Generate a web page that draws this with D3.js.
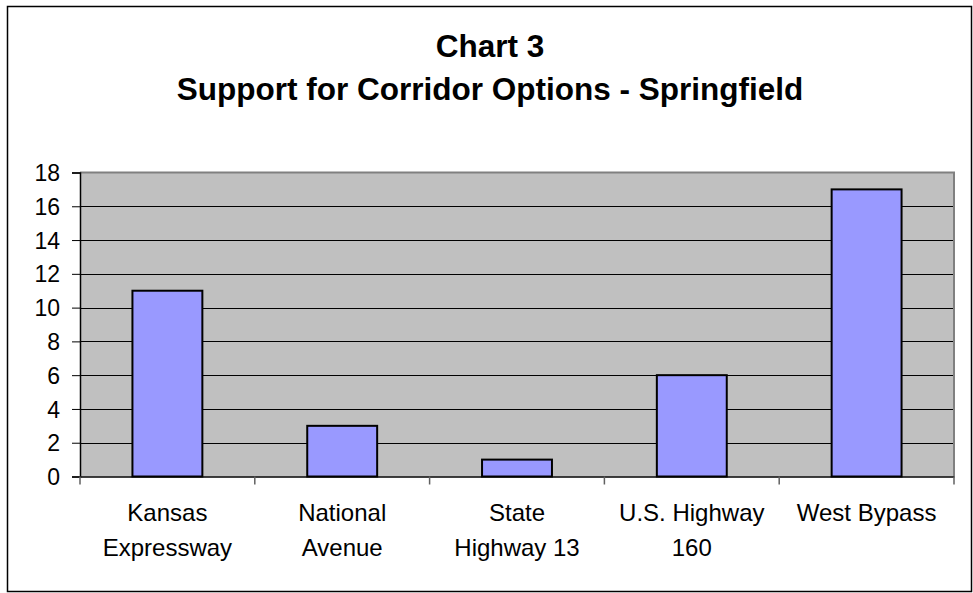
<!DOCTYPE html>
<html>
<head>
<meta charset="utf-8">
<script src="https://cdn.jsdelivr.net/npm/d3@7"></script>
<style>
  html, body { margin: 0; padding: 0; background: #fff; }
  svg { display: block; font-family: Arial, "Liberation Sans", sans-serif; }
</style>
</head>
<body>
<svg id="chart" width="973" height="593"></svg>
<script>
const titleLines = ["Chart 3", "Support for Corridor Options - Springfield"];
const categories = ["Kansas Expressway", "National Avenue", "State Highway 13", "U.S. Highway 160", "West Bypass"];
const categoryLabelLines = [["Kansas", "Expressway"], ["National", "Avenue"], ["State", "Highway 13"], ["U.S. Highway", "160"], ["West Bypass"]];
const values = [11, 3, 1, 6, 17];
const yTicks = [0, 2, 4, 6, 8, 10, 12, 14, 16, 18];

const svg = d3.select("#chart");
const plot = { left: 80, right: 954, top: 172.5, bottom: 476.5 };

// outer border
svg.append("rect")
  .attr("x", 7.5).attr("y", 6.5)
  .attr("width", 964).attr("height", 585)
  .attr("fill", "#fff").attr("stroke", "#000").attr("stroke-width", 1.5);

// title
const title = svg.append("text")
  .attr("text-anchor", "middle")
  .attr("font-weight", "bold")
  .attr("font-size", 31.5)
  .attr("fill", "#000");
titleLines.forEach((t, i) => {
  title.append("tspan").attr("x", 490).attr("y", 57 + i * 43).text(t);
});

const x = d3.scaleBand().domain(categories).range([plot.left, plot.right]).paddingInner(0).paddingOuter(0);
const y = d3.scaleLinear().domain([0, 18]).range([plot.bottom, plot.top]);

// plot background
svg.append("rect")
  .attr("x", plot.left).attr("y", plot.top)
  .attr("width", plot.right - plot.left).attr("height", plot.bottom - plot.top)
  .attr("fill", "#C0C0C0");

// gridlines
svg.append("g")
  .selectAll("line")
  .data(yTicks.filter(d => d > 0 && d < 18))
  .join("line")
  .attr("x1", plot.left).attr("x2", plot.right)
  .attr("y1", d => Math.round(y(d)) + 0.5).attr("y2", d => Math.round(y(d)) + 0.5)
  .attr("stroke", "#000").attr("stroke-width", 1);

// plot border (top/right gray)
svg.append("path")
  .attr("d", `M${plot.left},${plot.top}H${plot.right}V${plot.bottom}`)
  .attr("fill", "none").attr("stroke", "#808080").attr("stroke-width", 2);

// bars
const barW = x.bandwidth() / 2.5;
svg.append("g")
  .selectAll("rect")
  .data(values)
  .join("rect")
  .attr("x", (d, i) => x(categories[i]) + (x.bandwidth() - barW) / 2)
  .attr("y", d => y(d))
  .attr("width", barW)
  .attr("height", d => y(0) - y(d))
  .attr("fill", "#9999FF")
  .attr("stroke", "#000")
  .attr("stroke-width", 2);

// y axis
const yAxis = svg.append("g")
  .attr("transform", `translate(${plot.left},0)`)
  .call(d3.axisLeft(y).tickValues(yTicks).tickSize(8).tickPadding(12).tickFormat(d3.format("d")));
yAxis.select(".domain").attr("stroke", "#000").attr("stroke-width", 1.5);
yAxis.selectAll(".tick line").attr("stroke", "#000");
yAxis.selectAll(".tick text")
  .attr("font-size", 23)
  .attr("font-family", "Arial, 'Liberation Sans', sans-serif")
  .attr("fill", "#000")
  .attr("dy", "0.35em");

// x axis
const xAxis = svg.append("g")
  .attr("transform", `translate(0,${plot.bottom})`)
  .call(d3.axisBottom(x).tickSize(0).tickFormat(""));
xAxis.select(".domain").attr("stroke", "#000").attr("stroke-width", 1.5);

// category tick marks at band boundaries
const boundaries = categories.map(c => x(c)).concat([plot.right]);
svg.append("g")
  .selectAll("line")
  .data(boundaries)
  .join("line")
  .attr("x1", d => d).attr("x2", d => d)
  .attr("y1", plot.bottom).attr("y2", plot.bottom + 8)
  .attr("stroke", "#606060").attr("stroke-width", 1.5);

// category labels
const labels = svg.append("g")
  .attr("font-size", 24)
  .attr("fill", "#000")
  .attr("text-anchor", "middle");
categoryLabelLines.forEach((lines, i) => {
  const t = labels.append("text");
  lines.forEach((ln, j) => {
    t.append("tspan")
      .attr("x", x(categories[i]) + x.bandwidth() / 2)
      .attr("y", 521 + j * 35)
      .text(ln);
  });
});
</script>
</body>
</html>
